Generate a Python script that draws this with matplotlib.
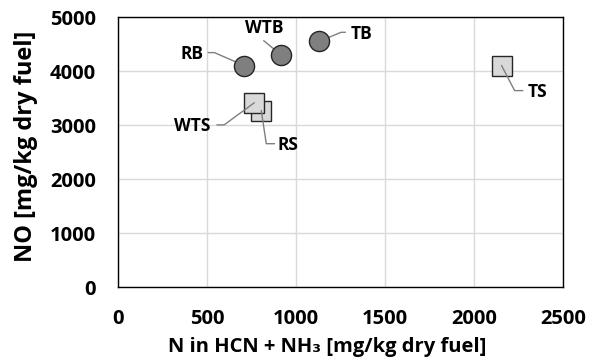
import matplotlib.pyplot as plt

plt.rcParams['font.family'] = ['Open Sans', 'DejaVu Sans']
plt.rcParams['font.weight'] = 'bold'

# N in HCN + NH3 vs NO, beds (circles) and spouted (squares)
bed_names = ['RB', 'WTB', 'TB']
bed_n = [710, 915, 1130]
bed_no = [4100, 4300, 4550]

spout_names = ['RS', 'WTS', 'TS']
spout_n = [805, 765, 2155]
spout_no = [3265, 3410, 4100]

# label offsets and leader-line vertices, in pixels from the marker (y down)
label_pos = {
    'RB': (-52, -12), 'WTB': (-17, -27), 'TB': (42, -7),
    'RS': (27, 34), 'WTS': (-62, 23), 'TS': (36, 26),
}
leaders = {
    'RB': [(-36, -13), (-30, -13), (0, 0)],
    'WTB': [(-17, -14), (0, 0)],
    'TB': [(26, -9), (22, -9), (0, 0)],
    'RS': [(0, 0), (5, 33), (13, 33)],
    'WTS': [(-37, 22), (-30, 22), (0, 0)],
    'TS': [(0, 0), (13, 25), (21, 25)],
}

fig = plt.figure(figsize=(5.89, 3.58), dpi=100)
ax = fig.add_subplot(111)
fig.subplots_adjust(left=0.2003, right=0.9559, top=0.9525, bottom=0.1983)

ax.set_xlim(0, 2500)
ax.set_ylim(0, 5000)
ax.set_xticks(range(0, 2501, 500))
ax.set_yticks(range(0, 5001, 1000))
ax.grid(True, color='#d9d9d9', linewidth=1)
ax.set_axisbelow(True)
for sp in ax.spines.values():
    sp.set_color('#000000')
    sp.set_linewidth(1)
ax.tick_params(length=0, labelsize=14.5)
ax.tick_params(axis='x', pad=16)
ax.tick_params(axis='y', pad=16)

ax.set_xlabel('N in HCN + NH\u2083 [mg/kg dry fuel]', fontsize=14.5, fontweight='bold')
ax.set_ylabel('NO [mg/kg dry fuel]', fontsize=17, fontweight='bold')
ax.xaxis.set_label_coords(0.471, -0.185)
ax.yaxis.set_label_coords(-0.179, 0.52)

ax.plot(bed_n, bed_no, 'o', ms=14.5, mfc='#7f7f7f', mec='#262626', mew=1, zorder=4)
# RS first so WTS sits on top
ax.plot(spout_n, spout_no, 's', ms=14.5, mfc='#d9d9d9', mec='#262626', mew=1, zorder=3)

to_data = ax.transData.inverted()


def px_to_data(x, y, dx, dy):
    cx, cy = ax.transData.transform((x, y))
    return to_data.transform((cx + dx, cy - dy))


for names, xs, ys, lz in [(bed_names, bed_n, bed_no, 3.5), (spout_names, spout_n, spout_no, 5)]:
    for name, x, y in zip(names, xs, ys):
        pts = [px_to_data(x, y, dx, dy) for dx, dy in leaders[name]]
        ax.plot([p[0] for p in pts], [p[1] for p in pts], color='#7f7f7f', lw=1, zorder=lz)
        tx, ty = px_to_data(x, y, *label_pos[name])
        ax.text(tx, ty, name, ha='center', va='center', fontsize=12.5, fontweight='bold', zorder=6)

fig.savefig('out.png', dpi=100)
